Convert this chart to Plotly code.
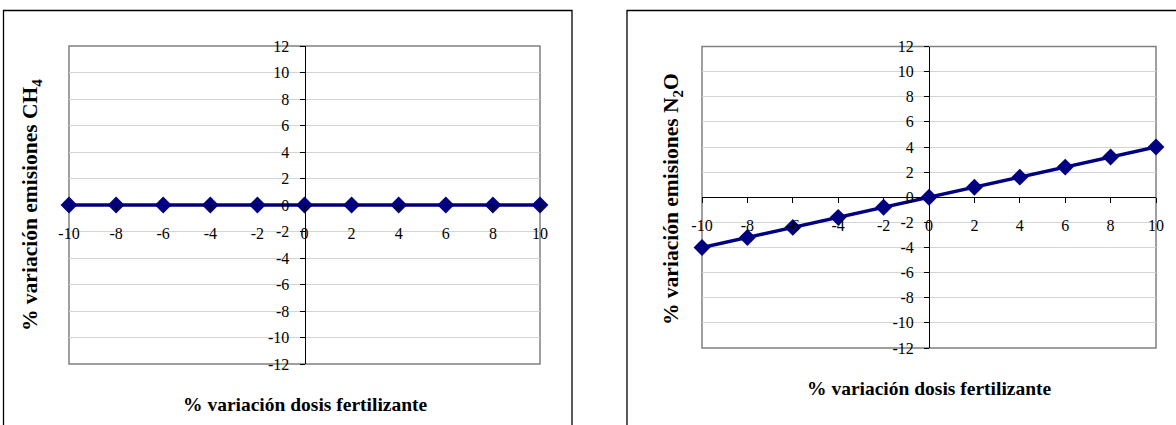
import plotly.graph_objects as go

W, H = 1176, 425

dosis = [-10, -8, -6, -4, -2, 0, 2, 4, 6, 8, 10]
ch4 = [0, 0, 0, 0, 0, 0, 0, 0, 0, 0, 0]
n2o = [-4.0, -3.2, -2.4, -1.6, -0.8, 0, 0.8, 1.6, 2.4, 3.2, 4.0]
y_ticks = [-12, -10, -8, -6, -4, -2, 0, 2, 4, 6, 8, 10, 12]
y_ticktext = ["-12", "-10", "-8", "-6", "-4", "-2", "0", "2", "4", "6", "8", "10", "12"]
x_ticks = [-10, -8, -6, -4, -2, 0, 2, 4, 6, 8, 10]
x_ticktext = ["-10", "-8", "-6", "-4", "-2", "0", "2", "4", "6", "8", "10"]
x_title = "% variación dosis fertilizante"
y_titles = ["% variación emisiones CH<sub>4</sub>", "% variación emisiones N<sub>2</sub>O"]

NAVY = "#000080"
FONT = "Liberation Serif"

def px_x(p):
    return p / W

def px_y(p):
    return 1 - p / H

# plot-area pixel boxes (left, right, top, bottom)
boxes = [(69, 540, 46, 364), (702, 1156, 46.5, 348)]
xr = [-10, 10]
yr = [-12, 12]

fig = go.Figure()
series = [ch4, n2o]
layout = {}
shapes = []
for i, (box, ys) in enumerate(zip(boxes, series)):
    l, r, t, b = box
    xd = [px_x(l), px_x(r)]
    yd = [px_y(b), px_y(t)]
    sfx = "" if i == 0 else str(i + 1)
    xa, ya = "x" + sfx, "y" + sfx
    xpos = xd[0] + (0 - xr[0]) / (xr[1] - xr[0]) * (xd[1] - xd[0])
    ypos = yd[0] + (0 - yr[0]) / (yr[1] - yr[0]) * (yd[1] - yd[0])
    fig.add_trace(go.Scatter(
        x=dosis, y=ys, xaxis=xa, yaxis=ya, mode="lines+markers",
        line=dict(color=NAVY, width=3.5),
        marker=dict(symbol="diamond", size=13, color=NAVY),
        showlegend=False, cliponaxis=False,
    ))
    layout["xaxis" + sfx] = dict(
        domain=xd, range=xr, anchor="free", position=ypos, automargin=False,
        tickvals=x_ticks, ticktext=x_ticktext, ticks="outside", ticklen=5, tickcolor="black",
        showline=True, linecolor="black", linewidth=1,
        showgrid=False, zeroline=False, ticklabelstandoff=9,
        tickfont=dict(family=FONT, size=16, color="black"),
    )
    layout["yaxis" + sfx] = dict(
        domain=yd, range=yr, anchor="free", position=xpos, automargin=False,
        tickvals=y_ticks, ticktext=y_ticktext, ticks="outside", ticklen=5, tickcolor="black",
        showline=True, linecolor="black", linewidth=1,
        showgrid=True, gridcolor="#d4d4d4", gridwidth=1, zeroline=False,
        ticklabelstandoff=7,
        tickfont=dict(family=FONT, size=16, color="black"),
    )
    shapes.append(dict(type="rect", xref=xa + " domain", yref=ya + " domain",
                       x0=0, x1=1, y0=0, y1=1, line=dict(color="#808080", width=1.5),
                       layer="below"))

# outer chart frames
shapes.append(dict(type="rect", xref="paper", yref="paper",
                   x0=px_x(3.5), x1=px_x(572), y0=-0.1, y1=px_y(10.5),
                   line=dict(color="black", width=1.3)))
shapes.append(dict(type="rect", xref="paper", yref="paper",
                   x0=px_x(627), x1=1.05, y0=-0.1, y1=px_y(10.5),
                   line=dict(color="black", width=1.3)))

TF = dict(family=FONT, size=19.5, color="black")
TFY = dict(family=FONT, size=21.5, color="black")
annotations = [
    dict(text="<b>" + x_title + "</b>", xref="paper", yref="paper", x=px_x(305), y=px_y(404),
         showarrow=False, font=TF, xanchor="center", yanchor="middle"),
    dict(text="<b>" + x_title + "</b>", xref="paper", yref="paper", x=px_x(929), y=px_y(388),
         showarrow=False, font=TF, xanchor="center", yanchor="middle"),
    dict(text="<b>" + y_titles[0] + "</b>", xref="paper", yref="paper", x=px_x(31), y=px_y(205),
         showarrow=False, textangle=-90, font=TFY, xanchor="center", yanchor="middle"),
    dict(text="<b>" + y_titles[1] + "</b>", xref="paper", yref="paper", x=px_x(672), y=px_y(199),
         showarrow=False, textangle=-90, font=TFY, xanchor="center", yanchor="middle"),
]

fig.update_layout(
    width=W, height=H, margin=dict(l=0, r=0, t=0, b=0, autoexpand=False),
    paper_bgcolor="white", plot_bgcolor="white",
    shapes=shapes, annotations=annotations, **layout,
)
fig.write_html("out.html", config={"displayModeBar": False},
               post_script="document.body.style.margin='0';")
